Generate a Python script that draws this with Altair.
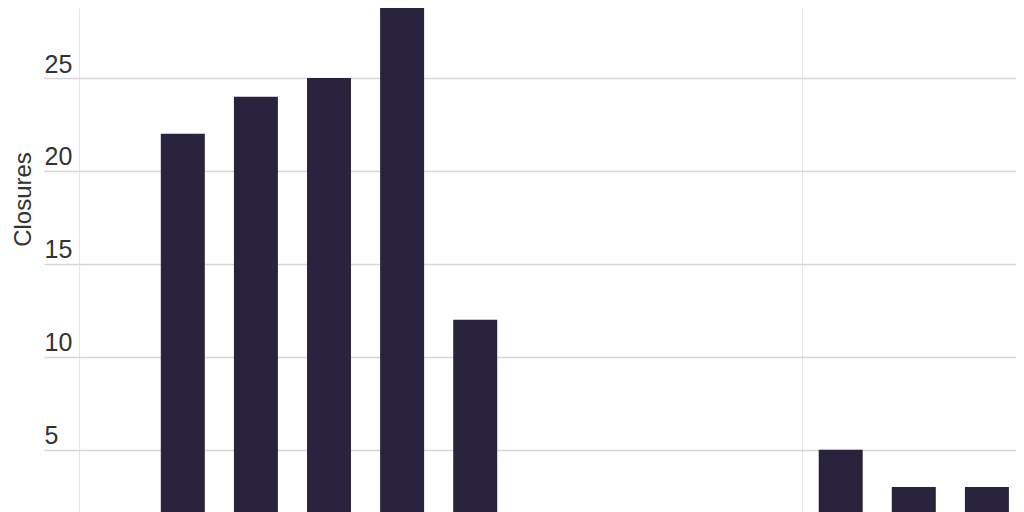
import altair as alt
import pandas as pd

years = [2001, 2002, 2003, 2004, 2005, 2006, 2007, 2008, 2009, 2010, 2011, 2012]
closures = [22, 24, 25, 30, 12, 0, 0, 0, 0, 5, 3, 3]
y_ticks = [5, 10, 15, 20, 25]
x_grid = [1999.58, 2009.47]

df = pd.DataFrame({"year": years, "closures": closures})

FONT = "Liberation Sans"

chart = (
    alt.Chart(df)
    .mark_bar(size=44, color="#29233e", clip=True)
    .encode(
        x=alt.X(
            "year:Q",
            scale=alt.Scale(domain=[1999.101, 2012.398], nice=False, zero=False, padding=0),
            axis=alt.Axis(
                values=x_grid,
                labels=False,
                ticks=False,
                domain=False,
                grid=True,
                gridColor="#e6e6e6",
                gridWidth=1.2,
                title=None,
            ),
        ),
        y=alt.Y(
            "closures:Q",
            scale=alt.Scale(domain=[1.65, 28.77], nice=False, zero=False, padding=0),
            axis=alt.Axis(
                values=y_ticks,
                ticks=False,
                domain=False,
                grid=True,
                gridColor="#d6d6d6",
                gridWidth=1.4,
                labelAlign="left",
                labelBaseline="alphabetic",
                labelPadding=0,
                labelOffset=-6,
                labelFontSize=25,
                labelFont=FONT,
                labelColor="#333333",
                title="Closures",
                titleFont=FONT,
                titleFontSize=24,
                titleFontWeight="normal",
                titleColor="#333333",
                titleAngle=-90,
                titleAlign="center",
                titleBaseline="alphabetic",
                titleX=-14,
                titleY=191,
            ),
        ),
        y2=alt.datum(0),
    )
    .properties(
        width=972,
        height=504,
        padding={"left": 36, "top": 0, "right": 0, "bottom": 0},
        autosize=alt.AutoSizeParams(type="none"),
    )
    .configure_view(stroke=None)
)

chart.save("out.html", embed_options={"renderer": "svg", "actions": False})
